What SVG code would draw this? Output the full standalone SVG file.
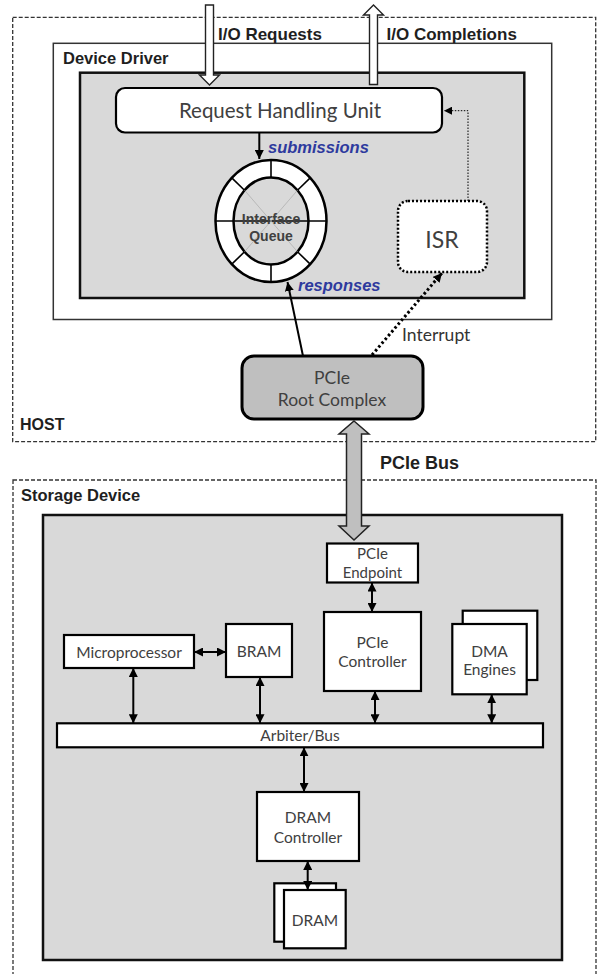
<svg xmlns="http://www.w3.org/2000/svg" width="600" height="974" viewBox="0 0 600 974">
<style>
.dash{fill:none;stroke:#333;stroke-width:1.3;stroke-dasharray:4,2}
.lbl{font-family:"Liberation Sans",Arial,sans-serif;font-weight:bold;fill:#1f1f1f}
.cal{font-family:Lato,"Open Sans",sans-serif;fill:#404040;text-anchor:middle}
.box{fill:#fff;stroke:#000;stroke-width:2.2}
.gray{fill:#d9d9d9;stroke:#111;stroke-width:2.5}
.blue{font-family:"Liberation Sans",Arial,sans-serif;font-weight:bold;font-style:italic;fill:#2e3a9e;font-size:16.5px}
.conn{fill:none;stroke:#000;stroke-width:2}
</style>
<defs>
<marker id="ah" viewBox="0 0 10 10" refX="10" refY="5" markerWidth="9" markerHeight="9" markerUnits="userSpaceOnUse" orient="auto-start-reverse">
<path d="M0,0 L10,5 L0,10 z" fill="#000"/>
</marker>
<marker id="ahs" viewBox="0 0 10 10" refX="10" refY="5" markerWidth="8" markerHeight="8" markerUnits="userSpaceOnUse" orient="auto">
<path d="M0,0 L10,5 L0,10 z" fill="#000"/>
</marker>
</defs>

<g id="host">
<rect class="dash" x="12.7" y="17.3" width="583" height="424.4"/>
<text class="lbl" x="20" y="430" font-size="16">HOST</text>
</g>

<g id="device-driver">
<rect x="53.3" y="43.3" width="498.4" height="276.2" fill="#fff" stroke="#333" stroke-width="1.5"/>
<text class="lbl" x="63" y="64" font-size="16.5">Device Driver</text>
<rect class="gray" x="80" y="72.7" width="444.3" height="225.3"/>
</g>

<g id="io-requests">
<path d="M205.5,5 H213.5 V75 H219.5 L209.5,85 L199.5,75 H205.5 Z" fill="#fff" stroke="#222" stroke-width="1.4"/>
<text class="lbl" x="218" y="40" font-size="17">I/O Requests</text>
</g>

<g id="io-completions">
<path d="M369.5,84.5 V15 H363.5 L373.5,5 L383.5,15 H377.5 V84.5 Z" fill="#fff" stroke="#222" stroke-width="1.4"/>
<text class="lbl" x="386.5" y="40" font-size="17">I/O Completions</text>
</g>

<g id="request-handling-unit">
<rect x="116" y="88" width="326" height="44.5" rx="9" fill="#fff" stroke="#000" stroke-width="2.2"/>
<text class="cal" x="280" y="117.5" font-size="20.5">Request Handling Unit</text>
</g>

<g id="interface-queue">
<ellipse cx="271" cy="221" rx="55.5" ry="61" fill="#fff" stroke="#000" stroke-width="2.5"/>
<ellipse cx="271" cy="221" rx="37.5" ry="43.5" fill="#d9d9d9" stroke="#000" stroke-width="2.5"/>
<g stroke="#000" stroke-width="1.6">
<line x1="271" y1="160" x2="271" y2="177.5"/>
<line x1="271" y1="264.5" x2="271" y2="282"/>
<line x1="215.5" y1="221" x2="326.5" y2="221"/>
<line x1="231.8" y1="177.9" x2="244.5" y2="190.2"/>
<line x1="310.2" y1="177.9" x2="297.5" y2="190.2"/>
<line x1="231.8" y1="264.1" x2="244.5" y2="251.8"/>
<line x1="310.2" y1="264.1" x2="297.5" y2="251.8"/>
</g>
<g stroke="#aaa" stroke-width="0.7">
<line x1="244.5" y1="190.2" x2="297.5" y2="251.8"/>
<line x1="297.5" y1="190.2" x2="244.5" y2="251.8"/>
</g>
<text class="lbl" x="271" y="224" font-size="14" text-anchor="middle" style="fill:#404040">Interface</text>
<text class="lbl" x="271" y="241" font-size="14" text-anchor="middle" style="fill:#404040">Queue</text>
</g>

<g id="isr">
<rect x="398" y="201" width="89" height="71" rx="10" fill="#fff" stroke="#000" stroke-width="2.5" stroke-dasharray="2,2"/>
<text class="cal" x="442" y="248" font-size="23">ISR</text>
</g>

<g id="pcie-root-complex">
<rect x="242" y="356" width="181" height="63" rx="12" fill="#bfbfbf" stroke="#000" stroke-width="3"/>
<text class="cal" x="332" y="384" font-size="17.5">PCIe</text>
<text class="cal" x="332" y="406" font-size="17.5">Root Complex</text>
</g>

<g id="storage-device">
<rect class="dash" x="13" y="480" width="583" height="520"/>
<text class="lbl" x="21" y="501" font-size="16.5">Storage Device</text>
<rect class="gray" x="43" y="515" width="519" height="445"/>
</g>

<g id="pcie-bus">
<path d="M354,421 L369,434 H361.5 V526 H369 L354,540 L339,526 H346.5 V434 H339 Z" fill="#bfbfbf" stroke="#222" stroke-width="1.5"/>
<text class="lbl" x="380" y="469" font-size="18">PCIe Bus</text>
</g>

<g id="pcie-endpoint">
<rect class="box" x="327" y="543.5" width="91" height="39"/>
<text class="cal" x="372.5" y="559" font-size="15">PCIe</text>
<text class="cal" x="372.5" y="578" font-size="15">Endpoint</text>
</g>

<g id="microprocessor">
<rect class="box" x="64" y="635" width="130" height="33"/>
<text class="cal" x="129" y="657.5" font-size="15.5">Microprocessor</text>
</g>

<g id="bram">
<rect class="box" x="226" y="624" width="66" height="53"/>
<text class="cal" x="259" y="656.5" font-size="15.5">BRAM</text>
</g>

<g id="pcie-controller">
<rect class="box" x="324" y="612" width="97" height="79"/>
<text class="cal" x="372.5" y="648" font-size="15.5">PCIe</text>
<text class="cal" x="372.5" y="667" font-size="15.5">Controller</text>
</g>

<g id="dma-engines">
<rect class="box" x="462.7" y="610.7" width="74.6" height="69.3"/>
<rect class="box" x="452.3" y="624" width="74.4" height="70.3"/>
<text class="cal" x="489.5" y="656.5" font-size="15.5">DMA</text>
<text class="cal" x="489.5" y="675" font-size="15.5">Engines</text>
</g>

<g id="arbiter-bus">
<rect class="box" x="57" y="723.3" width="486" height="24"/>
<text class="cal" x="300" y="740.5" font-size="15.5">Arbiter/Bus</text>
</g>

<g id="dram-controller">
<rect class="box" x="257" y="792" width="102" height="69"/>
<text class="cal" x="308" y="823" font-size="15.5">DRAM</text>
<text class="cal" x="308" y="843" font-size="15.5">Controller</text>
</g>

<g id="dram">
<rect class="box" x="274.3" y="883.3" width="61.7" height="58.4"/>
<rect class="box" x="284" y="890" width="61.7" height="58.3"/>
<text class="cal" x="315" y="925.5" font-size="15.5">DRAM</text>
</g>

<g id="connectors">
<line class="conn" x1="259.3" y1="132.5" x2="259.3" y2="159" marker-end="url(#ah)"/>
<line class="conn" x1="303" y1="356" x2="287.5" y2="282" stroke-width="2.5" marker-end="url(#ah)"/>
<path d="M468,201 V110.7 H444" fill="none" stroke="#000" stroke-width="1" stroke-dasharray="1.5,1.5" marker-end="url(#ahs)"/>
<line x1="372" y1="355" x2="442" y2="273" fill="none" stroke="#000" stroke-width="3" stroke-dasharray="2.5,2.5" marker-end="url(#ah)"/>
<text class="cal" x="402" y="341" font-size="17.5" style="text-anchor:start;fill:#333">Interrupt</text>
<text class="blue" x="268" y="152.5">submissions</text>
<text class="blue" x="298" y="291">responses</text>
<line class="conn" x1="194" y1="652" x2="226" y2="652" marker-start="url(#ah)" marker-end="url(#ah)"/>
<line class="conn" x1="133.3" y1="668" x2="133.3" y2="723.3" marker-start="url(#ah)" marker-end="url(#ah)"/>
<line class="conn" x1="260" y1="677" x2="260" y2="723.3" marker-start="url(#ah)" marker-end="url(#ah)"/>
<line class="conn" x1="372" y1="582.5" x2="372" y2="612" marker-start="url(#ah)" marker-end="url(#ah)"/>
<line class="conn" x1="375" y1="691" x2="375" y2="723.3" marker-start="url(#ah)" marker-end="url(#ah)"/>
<line class="conn" x1="491.7" y1="694.3" x2="491.7" y2="723.3" marker-start="url(#ah)" marker-end="url(#ah)"/>
<line class="conn" x1="304" y1="747.3" x2="304" y2="792" marker-start="url(#ah)" marker-end="url(#ah)"/>
<line class="conn" x1="307.7" y1="861" x2="307.7" y2="890" marker-start="url(#ah)" marker-end="url(#ah)"/>
</g>
</svg>
